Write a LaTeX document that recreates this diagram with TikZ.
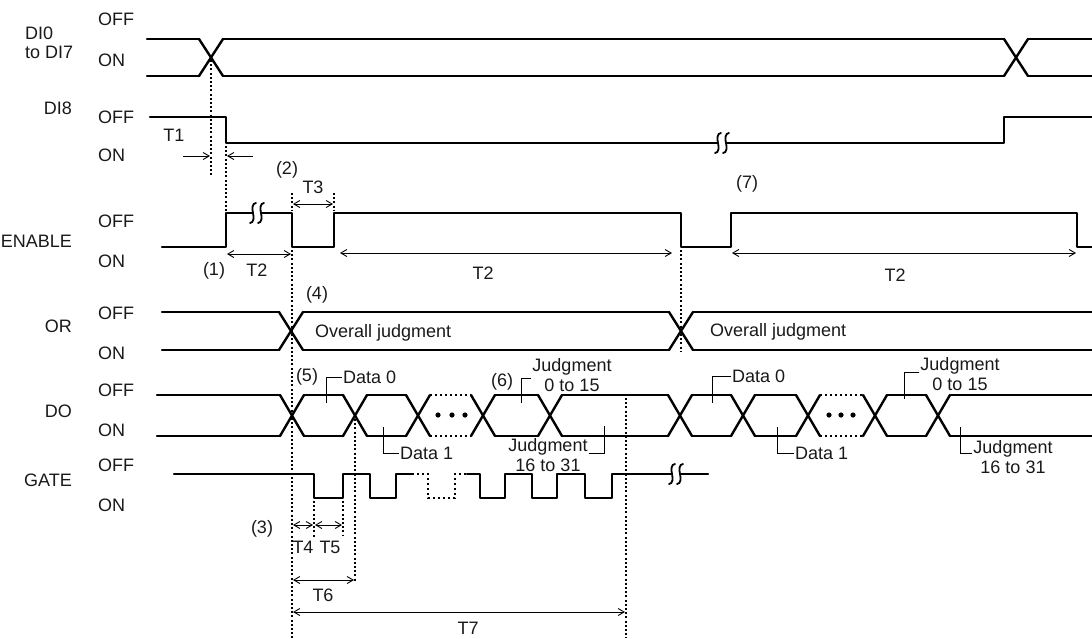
\documentclass[tikz,border=0pt]{standalone}
\usepackage{fontspec}
\setmainfont{Liberation Sans}
\usepackage{tikz}
\usetikzlibrary{arrows.meta}
\newcommand{\lblsize}{\fontsize{18}{19.5}\selectfont}

\begin{document}
\begin{tikzpicture}[x=1pt, y=-1pt,
  >={Straight Barb[length=6pt,width=7pt]},
  sig/.style={line width=2.4pt, line cap=round, line join=round},
  sigdot/.style={line width=2.4pt, dash pattern=on 2.4pt off 2.6pt},
  guide/.style={line width=1.4pt, dash pattern=on 2pt off 2.2pt},
  dim/.style={line width=0.9pt, <->},
  ptr/.style={line width=0.9pt, ->},
  lead/.style={line width=0.9pt},
  lbl/.style={font=\lblsize, inner sep=1pt, text=black!90},
  brk/.pic={
    \fill[white] (-4,-2.8) rectangle (4,2.8);
    \foreach \d in {-4,4}
      \draw[line width=1.8pt, line cap=round]
        (\d+3,-10) .. controls (\d-1,-10) and (\d-1,-4) .. (\d,0)
        .. controls (\d+1,4) and (\d+1,10) .. (\d-3,10);
  }]
  \useasboundingbox (0,0) rectangle (1092,638);

  % level labels
  \foreach \y/\t [count=\i] in {19/OFF,60/ON,117/OFF,155/ON,221/OFF,261/ON,
                                313/OFF,353/ON,390/OFF,430/ON,465/OFF,505/ON}
    \node[lbl, anchor=west] (lv\i) at (97,\y) {\t};

  % signal names
  \node[lbl, anchor=west, align=left] (nDI) at (24,43) {DI0\\to DI7};
  \node[lbl, anchor=east] (nDI8) at (73,108) {DI8};
  \node[lbl, anchor=east] (nEN) at (73,241) {ENABLE};
  \node[lbl, anchor=east] (nOR) at (73,326) {OR};
  \node[lbl, anchor=east] (nDO) at (73,411) {DO};
  \node[lbl, anchor=east] (nGT) at (73,480) {GATE};

  % DI0 to DI7
  \foreach \a/\b in {147/199, 223/1004, 1028/1092}
    \draw[sig] (\a,39) -- (\b,39) (\a,76) -- (\b,76);
  \foreach \c in {211,1016}
    \draw[sig] (\c-12,39) -- (\c+12,76) (\c-12,76) -- (\c+12,39);

  % DI8
  \draw[sig] (150,117) -- (226,117) -- (226,143) -- (1004,143)
    -- (1004,117) -- (1092,117);
  \pic at (722,143) {brk};

  % ENABLE
  \draw[sig] (162,247) -- (226,247) -- (226,213) -- (292,213) -- (292,247)
    -- (334,247) -- (334,213) -- (681,213) -- (681,247) -- (731,247)
    -- (731,213) -- (1077,213) -- (1077,247) -- (1092,247);
  \pic at (257,213) {brk};

  % OR
  \foreach \a/\b in {162/279, 303/669, 693/1092}
    \draw[sig] (\a,312) -- (\b,312) (\a,350) -- (\b,350);
  \foreach \c in {291,681}
    \draw[sig] (\c-12,312) -- (\c+12,350) (\c-12,350) -- (\c+12,312);

  % DO
  \foreach \a/\b in {157/280, 304/343, 367/406, 495/538, 562/668,
                     692/731, 755/796, 887/926, 950/1092}
    \draw[sig] (\a,395) -- (\b,395) (\a,436) -- (\b,436);
  \foreach \a/\b in {430/471, 820/863}
    \draw[sigdot] (\a,395) -- (\b,395) (\a,436) -- (\b,436);
  \foreach \c in {292,355,418,483,550,680,743,808,875,938}
    \draw[sig] (\c-12,395) -- (\c+12,436) (\c-12,436) -- (\c+12,395);
  \foreach \x in {438,452,465,829,841,853}
    \fill (\x,415) circle (2.6);

  % GATE
  \draw[sig] (174,474) -- (314,474) -- (314,498) -- (343,498) -- (343,474)
    -- (370,474) -- (370,498) -- (396,498) -- (396,474) -- (412,474);
  \draw[sigdot] (412,474) -- (428,474) -- (428,498) -- (455,498)
    -- (455,474) -- (467,474);
  \draw[sig] (467,474) -- (480,474) -- (480,498) -- (505,498) -- (505,474)
    -- (532,474) -- (532,498) -- (557,498) -- (557,474) -- (585,474)
    -- (585,498) -- (612,498) -- (612,474) -- (708,474);
  \pic at (676,474) {brk};

  % timing guides
  \draw[guide] (211,60) -- (211,175);
  \draw[guide] (226,146) -- (226,211);
  \draw[guide] (292,193) -- (292,211);
  \draw[guide] (334,193) -- (334,211);
  \draw[guide] (292,250) -- (292,638);
  \draw[guide] (681,250) -- (681,352);
  \draw[guide] (314,501) -- (314,537);
  \draw[guide] (343,501) -- (343,535);
  \draw[guide] (355,419) -- (355,582);
  \draw[guide] (626,398) -- (626,638);

  % T1 .. T7
  \draw[ptr] (183,156) -- (210,156);
  \draw[ptr] (253,156) -- (227,156);
  \node[lbl] (t1) at (174,135) {T1};
  \draw[dim] (227,254) -- (291,254);
  \node[lbl] (t2a) at (257,270) {T2};
  \node[lbl] (m1) at (214,271) {(1)};
  \draw[dim] (293,204) -- (333,204);
  \node[lbl] (t3) at (313,187) {T3};
  \node[lbl] (m2) at (287,170) {(2)};
  \draw[dim] (340,253) -- (672,253);
  \node[lbl] (t2b) at (483,273) {T2};
  \node[lbl] (m7) at (747,184) {(7)};
  \draw[dim] (732,253) -- (1076,253);
  \node[lbl] (t2c) at (895,275) {T2};
  \draw[dim] (293,525) -- (313,525);
  \draw[dim] (315,525) -- (342,525);
  \node[lbl] (m3) at (262,529) {(3)};
  \node[lbl] (t4) at (303,547) {T4};
  \node[lbl] (t5) at (330,547) {T5};
  \draw[dim] (293,580) -- (354,580);
  \node[lbl] (t6) at (323,595) {T6};
  \draw[dim] (293,612) -- (625,612);
  \node[lbl] (t7) at (468,628) {T7};

  % OR texts
  \node[lbl] (m4) at (317,295) {(4)};
  \node[lbl, anchor=west] (oj1) at (314,333) {Overall judgment};
  \node[lbl, anchor=west] (oj2) at (709,332) {Overall judgment};

  % DO texts and leaders
  \node[lbl] (m5) at (307,377) {(5)};
  \node[lbl, anchor=west] (d0a) at (342,377) {Data 0};
  \draw[lead] (d0a.west) -| (326,403);
  \node[lbl, anchor=west] (d1a) at (399,453) {Data 1};
  \draw[lead] (d1a.west) -| (383,427);
  \node[lbl] (m6) at (502,382) {(6)};
  \node[lbl, align=center] (ja) at (572,375) {Judgment\\0 to 15};
  \draw[lead] ([yshift=-3pt]ja.west) -| (521,403);
  \node[lbl, align=center] (jb) at (548,455) {Judgment\\16 to 31};
  \draw[lead] ([yshift=2pt]jb.east) -| (604,426);

  \node[lbl, anchor=west] (d0b) at (731,376) {Data 0};
  \draw[lead] (d0b.west) -| (712,403);
  \node[lbl, anchor=west] (d1b) at (794,453) {Data 1};
  \draw[lead] (d1b.west) -| (777,427);
  \node[lbl, align=center] (jc) at (960,374) {Judgment\\0 to 15};
  \draw[lead] ([yshift=2pt]jc.west) -| (904,399);
  \node[lbl, align=center] (jd) at (1013,457) {Judgment\\16 to 31};
  \draw[lead] ([yshift=4pt]jd.west) -| (960,427);
\end{tikzpicture}
\end{document}
